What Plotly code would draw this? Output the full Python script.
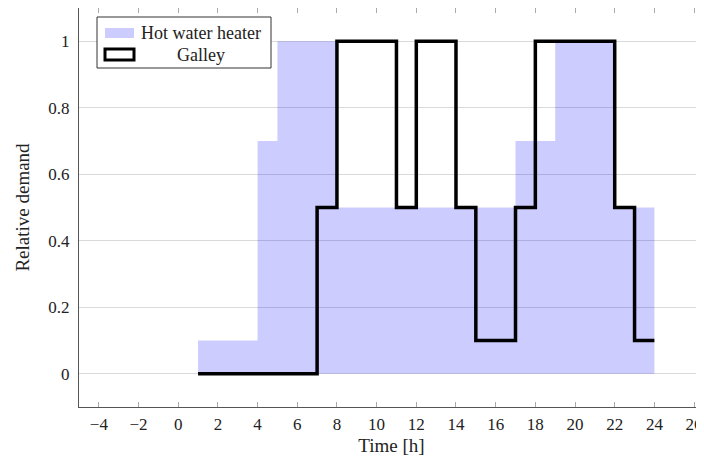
import plotly.graph_objects as go

# hourly step profiles (value holds from x[i] until x[i+1])
heater_x = [1, 4, 5, 8, 17, 19, 22, 24]
heater_y = [0.1, 0.7, 1.0, 0.5, 0.7, 1.0, 0.5, 0.5]

galley_x = [1, 7, 8, 11, 12, 14, 15, 17, 18, 22, 23, 24]
galley_y = [0, 0.5, 1.0, 0.5, 1.0, 0.5, 0.1, 0.5, 1.0, 0.5, 0.1, 0.1]

x_ticks = list(range(-4, 27, 2))
y_ticks = [0, 0.2, 0.4, 0.6, 0.8, 1]
y_labels = ["0", "0.2", "0.4", "0.6", "0.8", "1"]

FONT = "Liberation Serif"
HEATER_FILL = "rgba(0,0,255,0.2)"

# page body has an 8px margin, so the figure is sized to fit the window
W, H = 696, 451
ML, MR, MT, MB = 71, 0, 0, 52
OFF = 8


def px(x, y):
    # window pixel position -> paper coords, used for the hand-drawn legend
    return (x - OFF - ML) / (W - ML - MR), (H - MB - (y - OFF)) / (H - MT - MB)


fig = go.Figure()

fig.add_trace(
    go.Scatter(
        x=heater_x,
        y=heater_y,
        mode="lines",
        line=dict(shape="hv", width=0, color=HEATER_FILL),
        fill="tozeroy",
        fillcolor=HEATER_FILL,
        name="Hot water heater",
    )
)

fig.add_trace(
    go.Scatter(
        x=galley_x,
        y=galley_y,
        mode="lines",
        line=dict(shape="hv", width=3.5, color="black"),
        name="Galley",
    )
)

# legend box drawn by hand (pgfplots style: filled patch + outlined box)
x0, y0 = px(97, 17)
x1, y1 = px(271, 68)
fig.add_shape(type="rect", xref="paper", yref="paper", x0=x0, y0=y0, x1=x1, y1=y1,
              line=dict(color="#333", width=1), fillcolor="white", layer="above")
a0, b0 = px(105, 28)
a1, b1 = px(134, 38)
fig.add_shape(type="rect", xref="paper", yref="paper", x0=a0, y0=b0, x1=a1, y1=b1,
              line=dict(width=0), fillcolor=HEATER_FILL, layer="above")
a0, b0 = px(105, 49)
a1, b1 = px(134, 60)
fig.add_shape(type="rect", xref="paper", yref="paper", x0=a0, y0=b0, x1=a1, y1=b1,
              line=dict(color="black", width=3), fillcolor="white", layer="above")
tx, ty = px(139, 33)
fig.add_annotation(x=tx, y=ty, xref="paper", yref="paper", text="Hot water heater",
                   showarrow=False, xanchor="left", yanchor="middle",
                   font=dict(size=18))
tx, ty = px(201, 55)
fig.add_annotation(x=tx, y=ty, xref="paper", yref="paper", text="Galley",
                   showarrow=False, xanchor="center", yanchor="middle",
                   font=dict(size=18))

fig.update_layout(
    width=W,
    height=H,
    paper_bgcolor="white",
    plot_bgcolor="white",
    margin=dict(l=ML, r=MR, t=MT, b=MB),
    font=dict(family=FONT, size=16, color="#222"),
    showlegend=False,
)

fig.update_xaxes(
    range=[-5.0, 26.5],
    tickvals=x_ticks,
    ticktext=[str(t).replace("-", "\u2212") for t in x_ticks],
    tickfont=dict(size=17),
    ticks="inside",
    ticklen=5,
    tickcolor="#aaa",
    showline=True,
    linecolor="#555",
    linewidth=1,
    mirror="allticks",
    showgrid=False,
    zeroline=False,
    automargin=False,
    ticklabeloverflow="allow",
    ticklabelstandoff=2,
    title=dict(text="Time [h]", standoff=5),
)

fig.update_yaxes(
    range=[-0.1, 1.1],
    tickvals=y_ticks,
    ticktext=y_labels,
    tickfont=dict(size=17),
    ticks="",
    showline=True,
    linecolor="#555",
    linewidth=1,
    showgrid=True,
    gridcolor="#d9d9d9",
    gridwidth=1,
    zeroline=False,
    automargin=False,
    ticklabelstandoff=5,
    title=dict(text="Relative demand", standoff=13),
)

fig.write_html("out.html")
